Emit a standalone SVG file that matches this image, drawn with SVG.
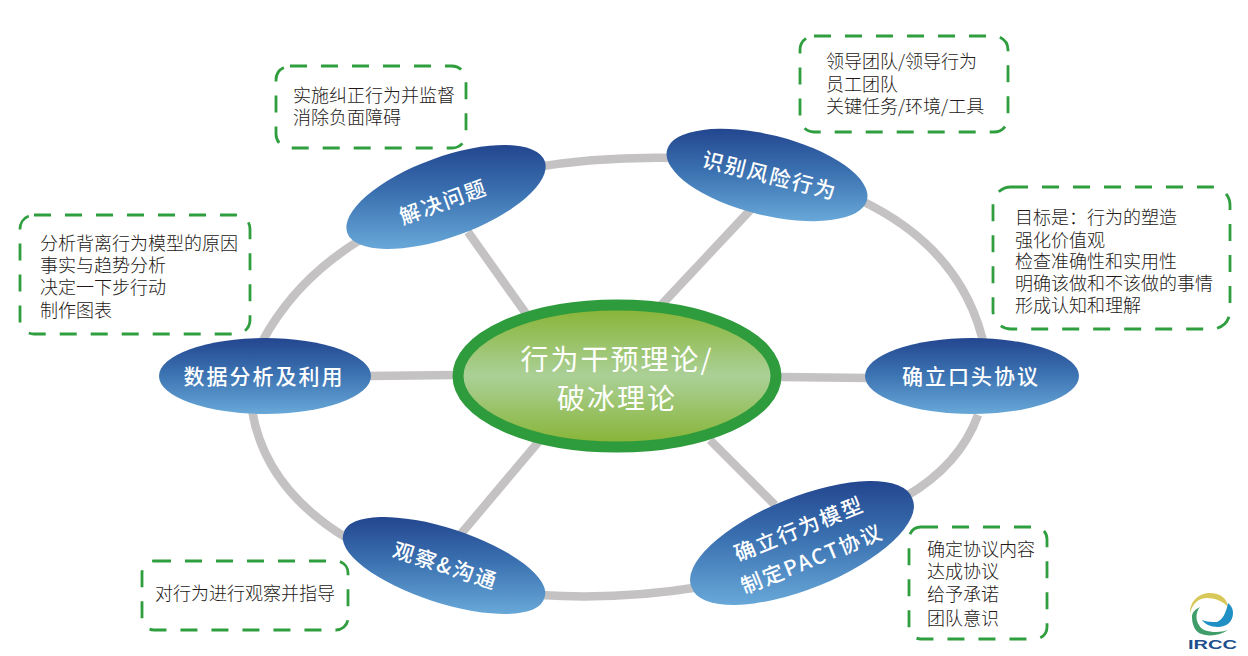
<svg xmlns="http://www.w3.org/2000/svg" width="1248" height="656" viewBox="0 0 1248 656">
<style>
text{font-family:"Noto Sans CJK SC","Noto Sans",sans-serif}
.link{fill:none;stroke:#c4c2c2;stroke-width:8.500}
.box{fill:#fff;stroke:#2f9e3f;stroke-width:2.800;stroke-dasharray:17 14}
.note{font-size:18px;fill:#231815;font-weight:300}
.lab{font-size:21px;fill:#fff;font-weight:500;text-anchor:middle;letter-spacing:2px}
.core{font-size:28px;fill:#fff;font-weight:400;text-anchor:middle;letter-spacing:2px}
</style>
<defs>
<linearGradient id="blue" x1="0" y1="0" x2="0" y2="1"><stop offset="0" stop-color="#23468f"/><stop offset=".45" stop-color="#3a70b0"/><stop offset="1" stop-color="#68a8d8"/></linearGradient>
<linearGradient id="green" x1="0" y1="0" x2="0" y2="1"><stop offset="0" stop-color="#86b332"/><stop offset=".5" stop-color="#abd097"/><stop offset="1" stop-color="#86b332"/></linearGradient>
</defs>
<rect width="1248" height="656" fill="#fff"/>
<g id="connectors">
<path class="link" d="M262 342Q295 280 360 240"/>
<path class="link" d="M530 168Q600 156 680 158"/>
<path class="link" d="M860 200Q965 250 985 350"/>
<path class="link" d="M978 415Q960 465 905 497"/>
<path class="link" d="M700 587Q620 600 540 595"/>
<path class="link" d="M350 540Q265 490 252 410"/>
<path class="link" d="M532 322L468 232"/>
<path class="link" d="M650 317L755 205"/>
<path class="link" d="M780 377L870 378"/>
<path class="link" d="M710 440L775 505"/>
<path class="link" d="M540 440L460 535"/>
<path class="link" d="M455 375L370 376"/>
</g>
<g id="core"><ellipse cx="617" cy="376" rx="159" ry="71" fill="url(#green)" stroke="#2e9b3c" stroke-width="11"/>
<text class="core" x="617" y="370">行为干预理论/</text><text class="core" x="617" y="409">破冰理论</text></g>
<g id="solve"><path fill="url(#blue)" d="M347.300 232.900A105 40 -20 1 1 544.700 161.100A105 40 -20 1 1 347.300 232.900Z"/>
<text class="lab" transform="translate(446 209) rotate(-20)">解决问题</text></g>
<g id="identify"><path fill="url(#blue)" d="M667 150.100A103 40 14 1 1 867 199.900A103 40 14 1 1 667 150.100Z"/>
<text class="lab" transform="translate(768 183) rotate(14)">识别风险行为</text></g>
<g id="verbal"><ellipse cx="972" cy="376" rx="107" ry="38" fill="url(#blue)"/>
<text class="lab" x="971" y="384">确立口头协议</text></g>
<g id="pact"><path fill="url(#blue)" d="M691.700 587.600A119 45 -22 1 1 912.300 498.400A119 45 -22 1 1 691.700 587.600Z"/>
<text class="lab" transform="translate(802 536) rotate(-22)">确立行为模型</text>
<text class="lab" transform="translate(815 566) rotate(-22)">制定PACT协议</text></g>
<g id="observe"><path fill="url(#blue)" d="M343.700 532.900A105.500 36.400 18 1 1 544.300 598.100A105.500 36.400 18 1 1 343.700 532.900Z"/>
<text class="lab" transform="translate(443 573) rotate(18)">观察&amp;沟通</text></g>
<g id="data"><ellipse cx="265" cy="376" rx="106" ry="38" fill="url(#blue)"/>
<text class="lab" x="264" y="384">数据分析及利用</text></g>
<g id="note-solve"><rect class="box" x="276" y="66" width="190" height="82" rx="14"/>
<text class="note" x="293" y="102">实施纠正行为并监督</text><text class="note" x="293" y="124">消除负面障碍</text></g>
<g id="note-identify"><rect class="box" x="800" y="36" width="208" height="96" rx="14"/>
<text class="note" x="826" y="68">领导团队/领导行为</text><text class="note" x="826" y="91">员工团队</text><text class="note" x="826" y="113">关键任务/环境/工具</text></g>
<g id="note-verbal"><rect class="box" x="993" y="187" width="237" height="142" rx="18"/>
<text class="note" x="1015" y="224">目标是：行为的塑造</text><text class="note" x="1015" y="247">强化价值观</text><text class="note" x="1015" y="268">检查准确性和实用性</text><text class="note" x="1015" y="290">明确该做和不该做的事情</text><text class="note" x="1015" y="312">形成认知和理解</text></g>
<g id="note-data"><rect class="box" x="20" y="215" width="230" height="119" rx="14"/>
<text class="note" x="40" y="250">分析背离行为模型的原因</text><text class="note" x="40" y="272">事实与趋势分析</text><text class="note" x="40" y="294">决定一下步行动</text><text class="note" x="40" y="317">制作图表</text></g>
<g id="note-observe"><rect class="box" x="142" y="561" width="206" height="69" rx="12"/>
<text class="note" x="155" y="600">对行为进行观察并指导</text></g>
<g id="note-pact"><rect class="box" x="909" y="527" width="138" height="112" rx="12"/>
<text class="note" x="927" y="556">确定协议内容</text><text class="note" x="927" y="578">达成协议</text><text class="note" x="927" y="601">给予承诺</text><text class="note" x="927" y="625">团队意识</text></g>
<g id="logo">
<path fill="#d8c85a" d="M1190 613C1190 600 1200 593 1210 593C1220 593 1227 598 1228 607C1224 602 1216 598 1207 598C1199 598 1193 603 1190 613Z"/>
<path fill="#1f8fc4" d="M1228 603C1232 606 1233 610 1233 613C1233 622 1226 627 1218 627C1210 627 1205 624 1202 620C1207 622 1212 622 1217 622C1222 620 1226 614 1228 603Z"/>
<path fill="#3f9d6a" d="M1200 607C1194 610 1192 613 1192 617C1192 626 1196 631 1199 633C1207 637 1220 636 1228 630C1222 632 1217 632 1213 632C1205 631 1201 629 1199 625C1196 621 1195 613 1200 607Z"/>
<text x="1188" y="649" font-size="13" font-weight="700" fill="#1d4f8c" textLength="49" lengthAdjust="spacingAndGlyphs" style="font-family:'Liberation Sans',sans-serif">IRCC</text>
</g>
</svg>
